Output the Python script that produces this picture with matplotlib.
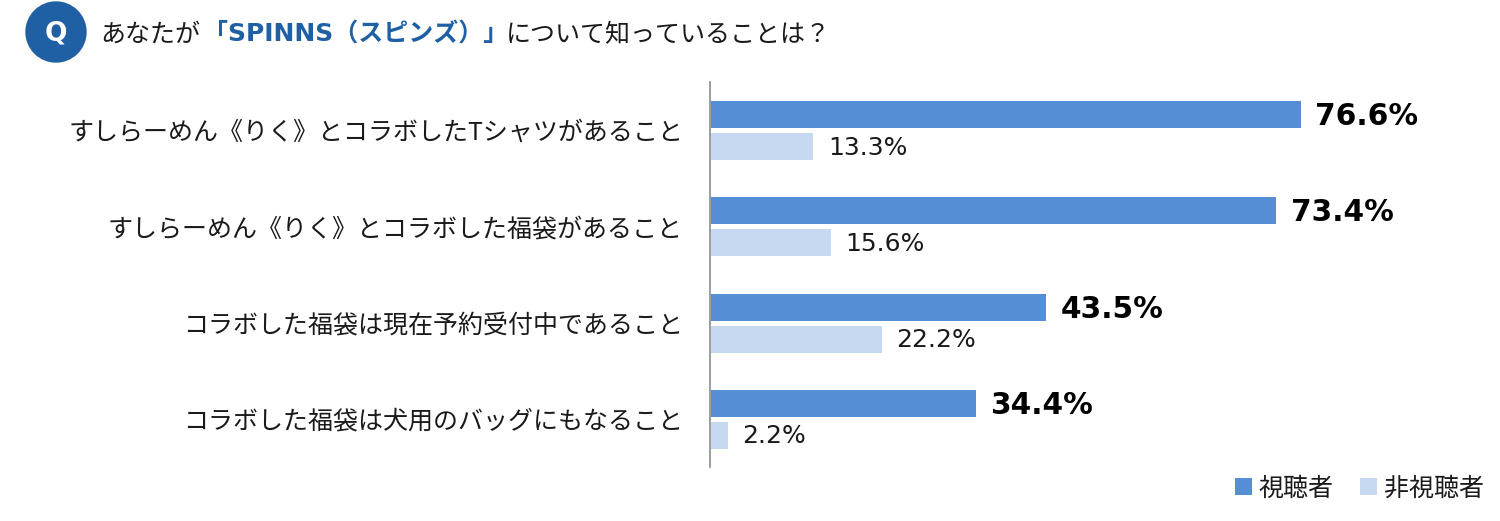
# -*- coding: utf-8 -*-
import matplotlib

matplotlib.use("Agg")
import matplotlib.pyplot as plt
from matplotlib.patches import Circle, Rectangle

plt.rcParams["font.family"] = ["Noto Sans CJK JP", "DejaVu Sans"]

W, H = 1500, 521
BLUE = "#558ed5"
LIGHT = "#c6d9f1"
NAVY = "#1f5fa3"
INK = "#1a1a1a"

categories = [
    "すしらーめん《りく》とコラボしたTシャツがあること",
    "すしらーめん《りく》とコラボした福袋があること",
    "コラボした福袋は現在予約受付中であること",
    "コラボした福袋は犬用のバッグにもなること",
]
viewers = [76.6, 73.4, 43.5, 34.4]
non_viewers = [13.3, 15.6, 22.2, 2.2]
series_names = ["視聴者", "非視聴者"]
title_parts = ["あなたが", "「SPINNS（スピンズ）」", "について知っていることは？"]

PX = 7.7  # pixels per percent

fig = plt.figure(figsize=(W / 100, H / 100), dpi=100)
ax = fig.add_axes([711 / W, 1 - 467.5 / H, (W - 711) / W, 385 / H])
ax.set_xlim(0, (W - 711) / PX)
ax.set_ylim(4, 0)
ax.axis("off")

bar_h = 27 / 96.25
offset = 16 / 96.25
for i, (a, b) in enumerate(zip(viewers, non_viewers)):
    ax.barh(i + 0.5 - offset, a, height=bar_h, color=BLUE)
    ax.barh(i + 0.5 + offset, b, height=bar_h, color=LIGHT)
    ax.annotate(f"{a}%", (a, i + 0.5 - offset), xytext=(10.5, -1.5), textcoords="offset points",
                va="center", ha="left", fontsize=21.3, fontweight="bold",
                family=["DejaVu Sans"], color="black")
    ax.annotate(f"{b}%", (b, i + 0.5 + offset), xytext=(10.5, -0.8), textcoords="offset points",
                va="center", ha="left", fontsize=18, family=["DejaVu Sans"], color=INK)
    fig.text(683 / W, 1 - (133 + i * 96.25) / H, categories[i], ha="right", va="center",
             fontsize=18, color=INK)

# vertical axis line
fig.add_artist(plt.Line2D([710 / W, 710 / W], [1 - 82 / H, 1 - 467 / H], color="#8c8c8c", lw=1.2))

# header
overlay = fig.add_axes([0, 0, 1, 1], facecolor="none")
overlay.set_xlim(0, W)
overlay.set_ylim(H, 0)
overlay.axis("off")
overlay.add_patch(Circle((56, 32), 30, color=NAVY))
overlay.text(56, 33.5, "Q", ha="center", va="center", color="white", fontsize=19, fontweight="bold",
             family=["DejaVu Sans"])
overlay.text(100, 35, title_parts[0], va="center", fontsize=18, color=INK)
overlay.text(203, 35, title_parts[1], va="center", fontsize=18, color=NAVY, fontweight="bold",
             family=["DejaVu Sans", "Noto Sans CJK JP"])
overlay.text(506, 35, title_parts[2], va="center", fontsize=18, color=INK)

# legend
overlay.add_patch(Rectangle((1235, 478), 17, 17, color=BLUE, lw=0))
overlay.text(1259, 489, series_names[0], va="center", fontsize=18, color=INK)
overlay.add_patch(Rectangle((1360, 478), 17, 17, color=LIGHT, lw=0))
overlay.text(1384, 489, series_names[1], va="center", fontsize=18, color=INK)

fig.savefig("out.png", dpi=100)
